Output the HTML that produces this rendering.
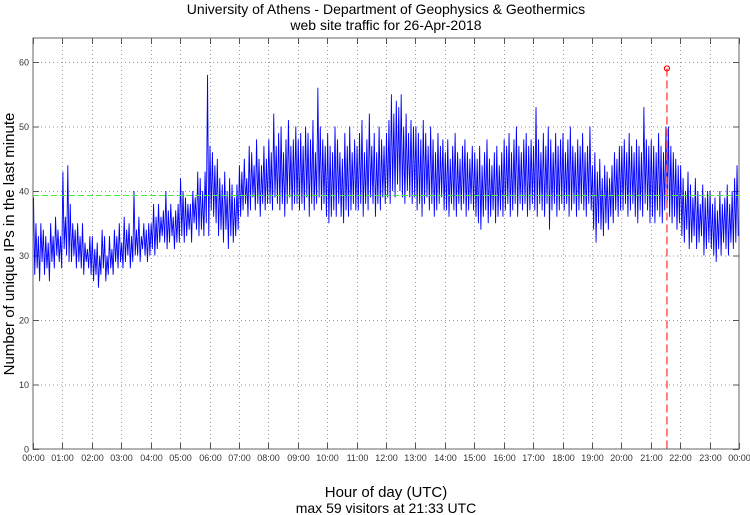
<!DOCTYPE html>
<html><head><meta charset="utf-8"><style>
body{margin:0;background:#fff;}
svg{display:block;font-family:"Liberation Sans",sans-serif;}
</style></head><body>
<svg id="c" width="750" height="515">
<text x="386" y="14" text-anchor="middle" font-size="14">University of Athens - Department of Geophysics &amp; Geothermics</text>
<text x="386" y="30" text-anchor="middle" font-size="14">web site traffic for 26-Apr-2018</text>
<text transform="translate(14,244) rotate(-90)" text-anchor="middle" font-size="15">Number of unique IPs in the last minute</text>
<text x="386" y="497" text-anchor="middle" font-size="15">Hour of day (UTC)</text>
<text x="386" y="513" text-anchor="middle" font-size="14">max 59 visitors at 21:33 UTC</text>
<g id="grid"></g><g id="series"></g><g id="marks"></g>
</svg>
<script>
const hourLabels=["00:00","01:00","02:00","03:00","04:00","05:00","06:00","07:00","08:00","09:00","10:00","11:00","12:00","13:00","14:00","15:00","16:00","17:00","18:00","19:00","20:00","21:00","22:00","23:00","00:00"];
const yTicks=[0,10,20,30,40,50,60];
const meanValue=[39.3];
const maxPoint=[21*60+33,59];
const hi5=[39,35,33,35,34,33,32,35,33,36,34,33,
43,36,44,38,35,34,35,33,35,32,31,33,
33,31,32,30,34,33,30,33,31,34,33,35,
32,36,34,35,33,40,34,36,33,35,34,35,
35,38,36,38,36,37,40,37,38,36,37,38,
42,40,39,38,38,40,39,43,42,40,43,58,
47,46,44,45,42,41,43,40,42,41,39,41,
44,43,45,42,47,46,44,48,45,44,47,45,
48,46,52,47,49,50,46,48,51,47,48,50,
48,49,47,50,49,48,51,46,56,50,48,47,
49,47,46,50,48,46,45,49,47,50,46,48,
47,49,51,46,48,52,47,49,46,50,48,47,
49,51,55,52,54,53,55,50,52,49,51,50,
50,49,48,51,49,47,50,48,46,49,47,48,
46,48,45,47,49,46,45,47,48,46,45,47,
46,45,47,44,46,48,45,44,46,47,44,46,
48,47,49,46,48,50,47,46,48,49,47,48,
47,53,48,46,49,47,50,48,46,49,47,48,
49,46,48,50,47,46,48,47,49,46,47,50,
44,46,43,45,42,44,43,42,44,46,45,47,
47,48,46,49,47,46,48,47,46,53,48,47,
48,47,46,49,47,46,50,50,47,46,45,44,
44,42,40,43,41,39,42,40,38,41,39,40,
40,38,39,37,40,38,39,41,38,40,42,44];
const lo5=[27,28,26,29,27,28,26,29,28,30,29,28,
31,30,29,29,30,28,29,28,27,29,28,27,
26,27,25,27,28,26,27,28,27,29,28,29,
28,29,30,28,29,30,30,29,31,30,29,30,
31,30,31,32,33,32,31,32,33,31,32,32,
33,32,33,34,32,35,34,33,34,33,35,33,
37,36,35,33,34,32,34,31,33,32,33,34,
36,37,38,36,37,39,37,38,36,38,37,38,
38,37,39,38,37,38,36,38,39,37,38,38,
37,38,37,39,36,38,37,38,39,37,38,36,
35,36,37,36,38,36,35,37,36,37,38,37,
37,38,36,38,37,39,38,36,38,37,39,38,
39,38,40,39,41,40,39,38,40,39,38,39,
37,38,36,38,39,37,38,36,37,38,39,37,
37,36,38,37,36,38,37,38,36,37,38,37,
36,35,34,36,37,35,36,37,35,36,37,36,
37,38,36,37,38,36,38,37,38,36,37,38,
37,36,38,37,36,38,34,37,38,36,37,38,
37,38,36,37,38,36,37,38,37,36,38,37,
34,32,35,34,33,35,34,36,35,37,36,37,
37,38,36,37,38,36,35,37,36,38,37,35,
36,35,37,36,35,37,38,36,35,36,34,35,
33,32,34,31,32,33,31,32,33,30,31,32,
31,30,29,31,30,32,31,30,32,31,32,33];
const NS="http://www.w3.org/2000/svg";
const L=33,R=739,T=38,B=449;
const xs=m=>L+(R-L)*m/1440;
const ys=v=>B-(B-62)*v/60;
function mk(tag,at,parent){const e=document.createElementNS(NS,tag);for(const k in at)e.setAttribute(k,at[k]);parent.appendChild(e);return e;}
const g=document.getElementById('grid'),s=document.getElementById('series'),mg=document.getElementById('marks');
const frame=mk('rect',{x:L,y:T,width:R-L,height:B-T,fill:'none',stroke:'#666','stroke-width':1},g);


yTicks.forEach(v=>{
 const y=ys(v)+0.5;
 if(v>0){const gl=mk('line',{x1:L,x2:R,y1:y,y2:y,stroke:'#999','stroke-dasharray':'1,3'},g);
 
 }
 mk('line',{x1:L,x2:L+6,y1:y,y2:y,stroke:'#555'},g);
 mk('line',{x1:R-6,x2:R,y1:y,y2:y,stroke:'#555'},g);
 const t=mk('text',{x:L-4,y:y+3,'text-anchor':'end','font-size':9,fill:'#333'},g);t.textContent=v;
 
 
});
hourLabels.forEach((lab,i)=>{
 const x=Math.round(xs(i*60))+0.5;
 if(i>0&&i<24){const gl=mk('line',{x1:x,x2:x,y1:T,y2:B,stroke:'#999','stroke-dasharray':'1,3'},g);
 
 }
 mk('line',{x1:x,x2:x,y1:B-6,y2:B,stroke:'#555'},g);
 mk('line',{x1:x,x2:x,y1:T,y2:T+6,stroke:'#555'},g);
 const t=mk('text',{x:x,y:461,'text-anchor':'middle','font-size':9,fill:'#333'},g);t.textContent=lab;
 
 
});
let pts=[];
hi5.forEach((h,i)=>{pts.push(xs(i*5+1).toFixed(2)+','+ys(h).toFixed(2));pts.push(xs(i*5+3.5).toFixed(2)+','+ys(lo5[i]).toFixed(2));});
const line=mk('polyline',{points:pts.join(' '),fill:'none',stroke:'#0000ff','stroke-width':0.9,'stroke-linejoin':'miter'},s);


const mean=mk('line',{x1:L,x2:R,y1:ys(meanValue[0]),y2:ys(meanValue[0]),stroke:'#44ee44','stroke-width':1,'stroke-dasharray':'6,3'},s);


const mx=xs(maxPoint[0]);
const vl=mk('line',{x1:mx,x2:mx,y1:ys(maxPoint[1]),y2:B,stroke:'#f55','stroke-width':1.5,'stroke-dasharray':'8,4'},mg);


const c=mk('circle',{cx:mx,cy:ys(maxPoint[1]),r:2.5,fill:'none',stroke:'#f00','stroke-width':1.2},mg);


</script>
</body></html>
